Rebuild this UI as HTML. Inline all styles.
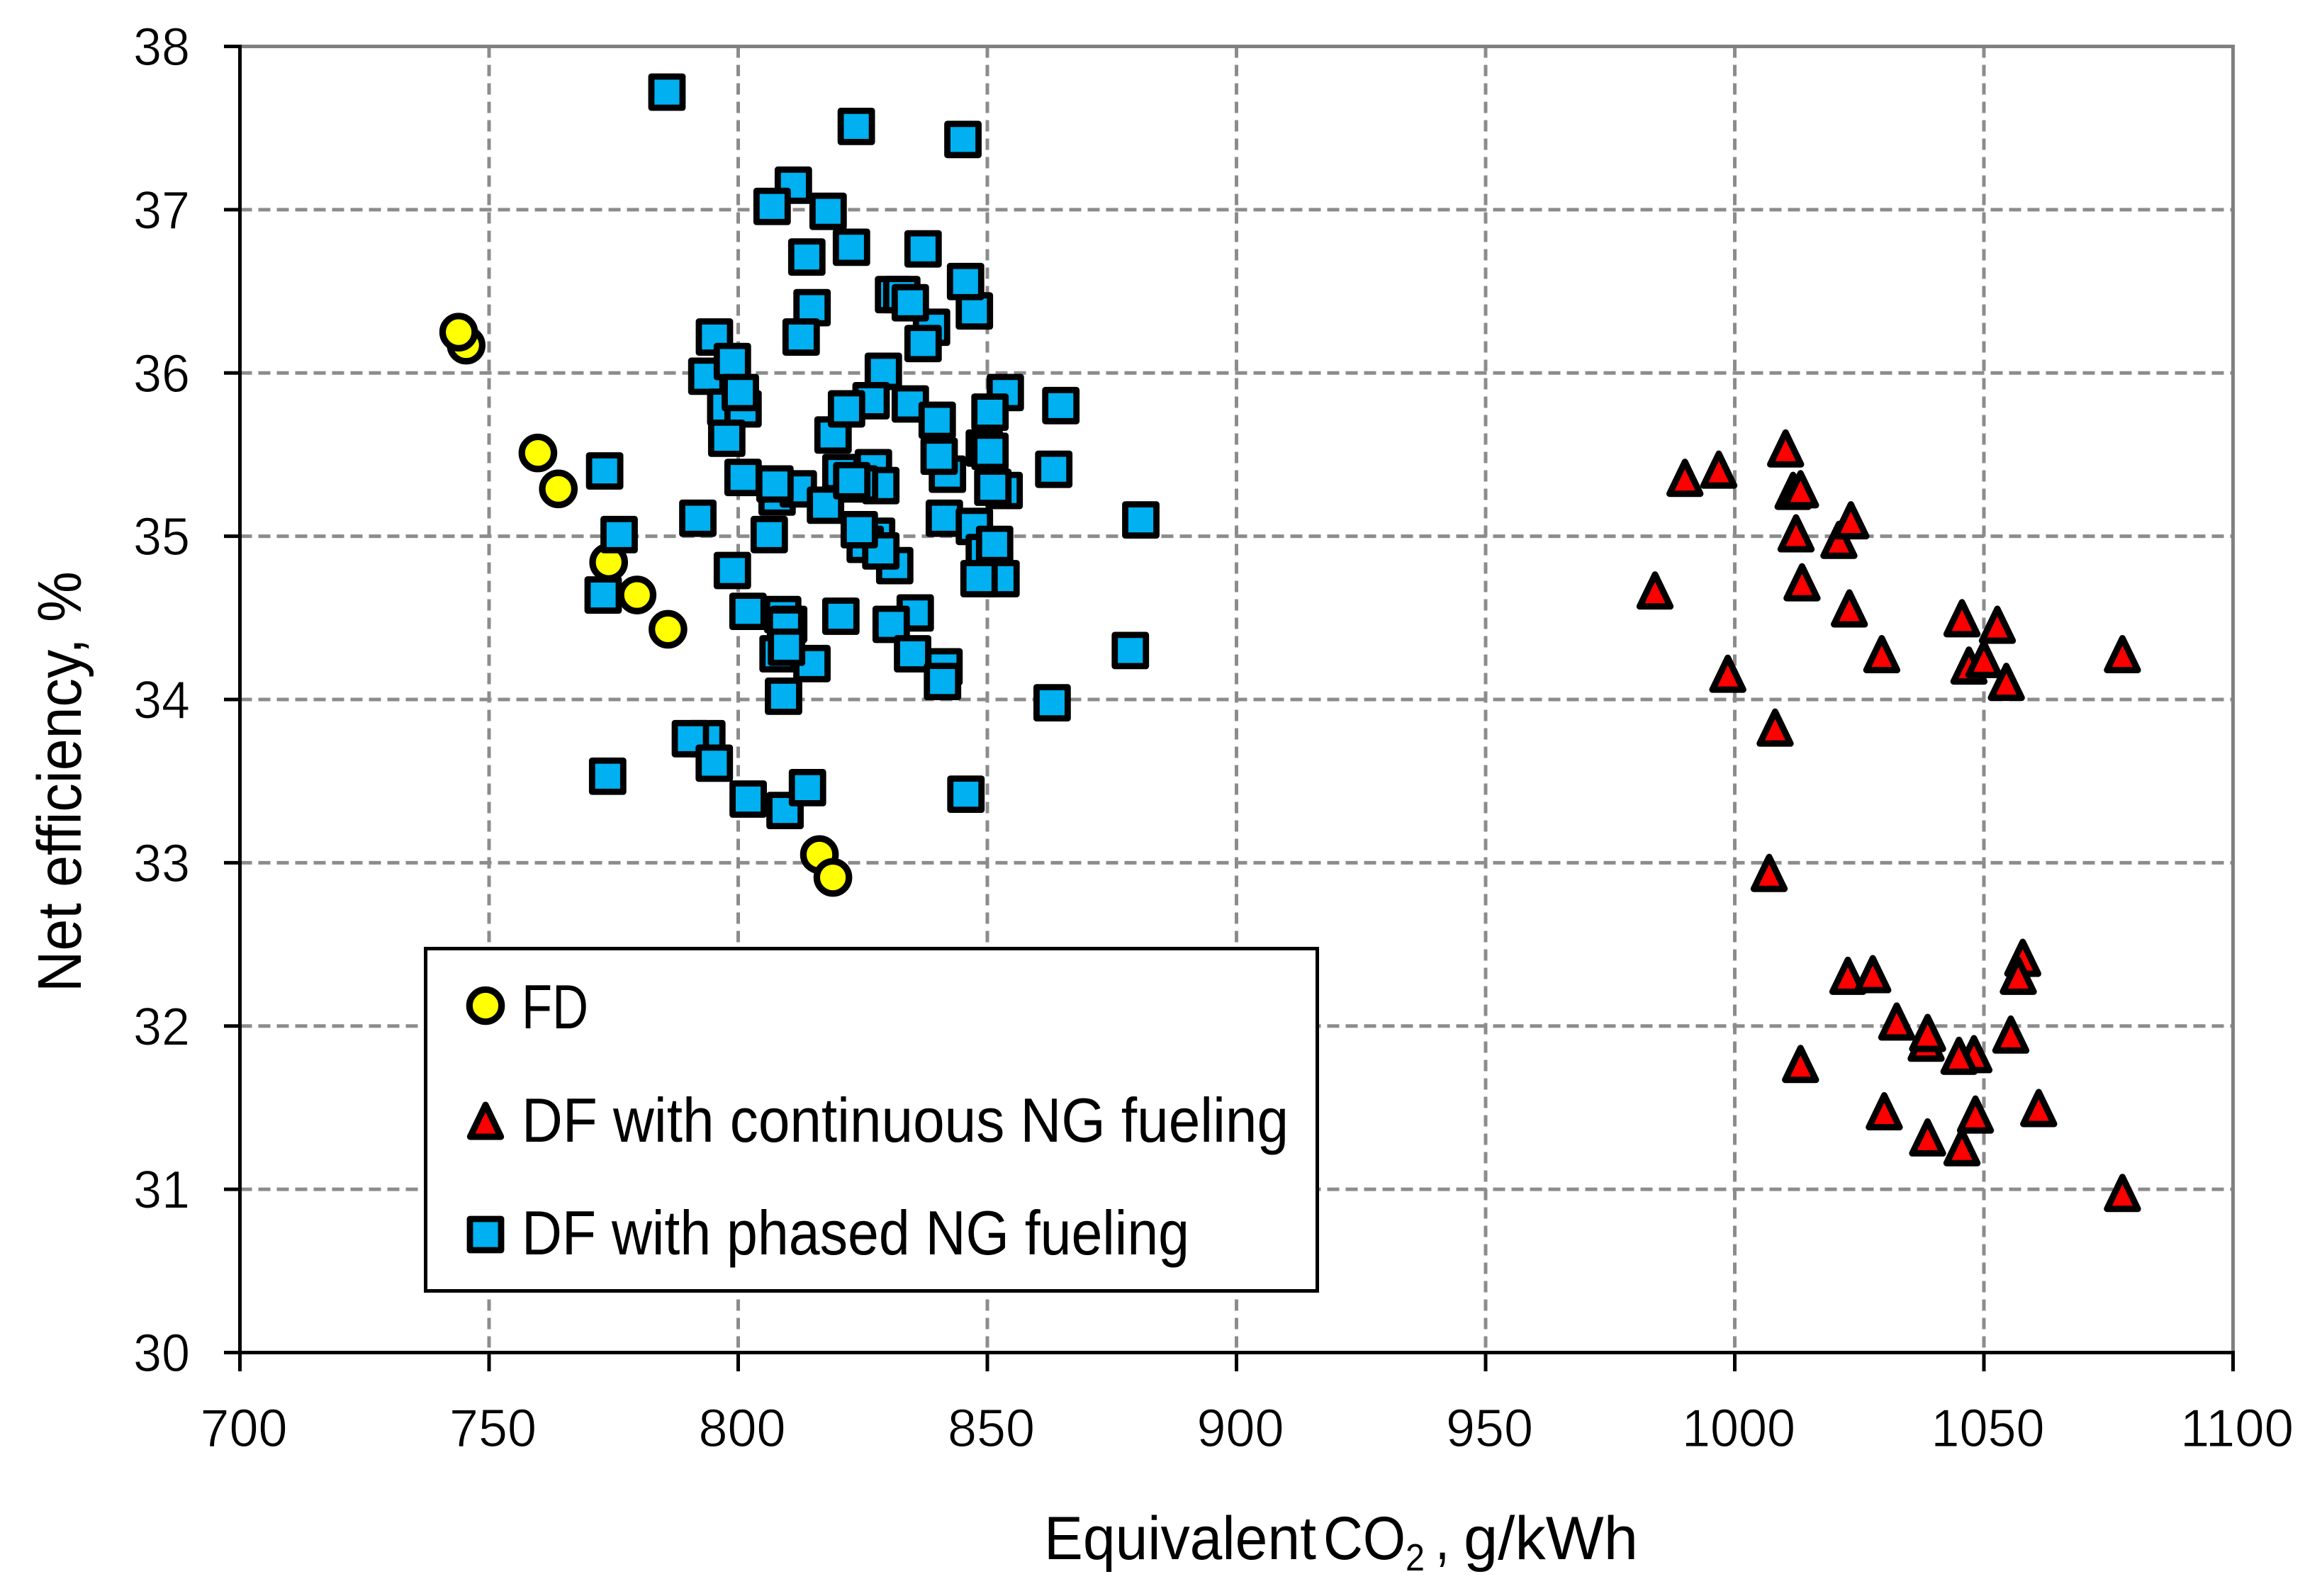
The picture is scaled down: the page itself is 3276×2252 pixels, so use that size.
<!DOCTYPE html>
<html lang="en">
<head>
<meta charset="utf-8">
<title>Net efficiency vs equivalent CO2</title>
<style>
html,body{margin:0;padding:0;background:#fff;}
svg{display:block;}
text{font-family:"Liberation Sans",sans-serif;fill:#000;}
</style>
</head>
<body>
<svg id="chart" xmlns="http://www.w3.org/2000/svg" width="3276" height="2252" viewBox="0 0 3276 2252">
  <rect x="0" y="0" width="3276" height="2252" fill="#fff"/>
  <g id="grid"></g>
  <g id="frame"></g>
  <g id="ticks"></g>
  <g id="series-fd"></g>
  <g id="series-cont"></g>
  <g id="series-phased"></g>
  <text transform="translate(114,1400) rotate(-90)" x="0" y="0" font-size="87" textLength="594" lengthAdjust="spacingAndGlyphs">Net efficiency, %</text>
  <text x="1473" y="2200" font-size="86" textLength="384" lengthAdjust="spacingAndGlyphs">Equivalent</text>
  <text x="1867" y="2200" font-size="86" textLength="116" lengthAdjust="spacingAndGlyphs">CO</text>
  <text x="1983" y="2216" font-size="54" textLength="27" lengthAdjust="spacingAndGlyphs">2</text>
  <text x="2025" y="2200" font-size="86" textLength="20" lengthAdjust="spacingAndGlyphs">,</text>
  <text x="2065" y="2200" font-size="86" textLength="246" lengthAdjust="spacingAndGlyphs">g/kWh</text>
  <g>
    <rect x="600.5" y="1338.5" width="1258" height="483" fill="#fff" stroke="#000" stroke-width="5"/>
    <circle cx="685" cy="1419" r="22.7" fill="#ffff00" stroke="#000" stroke-width="9.2"/>
    <text x="736" y="1451" font-size="88" textLength="94" lengthAdjust="spacingAndGlyphs">FD</text>
    <polygon points="685,1559 706.7,1604 663.3,1604" fill="#ff0000" stroke="#000" stroke-width="9" stroke-linejoin="round"/>
    <text x="736" y="1611" font-size="88" textLength="1082" lengthAdjust="spacingAndGlyphs">DF with continuous NG fueling</text>
    <rect x="663" y="1720" width="44" height="44" fill="#00b0f0" stroke="#000" stroke-width="8.8" stroke-linejoin="round"/>
    <text x="736" y="1770" font-size="88" textLength="942" lengthAdjust="spacingAndGlyphs">DF with phased NG fueling</text>
  </g>
</svg>
<script>
const xTicks = [700,750,800,850,900,950,1000,1050,1100];
const yTicks = [30,31,32,33,34,35,36,37,38];
const fdX = [745.4,743.9,759.8,763.9,774,779.7,785.9,816.3,819];
const fdY = [36.17,36.25,35.51,35.29,34.84,34.64,34.43,33.05,32.91];
const contX = [984,990,996.8,1010.2,1011.7,1013.2,1012.3,1020.9,1023.3,1013.5,1023,1045.6,1052.7,1029.5,1047,1050,1054.5,1077.8,998.6,1008.1,1006.9,1022.7,1027.7,1032.5,1038.4,1038.7,1055.4,1057.8,1056.9,1013.2,1048,1045,1030,1038.7,1048.3,1061,1045.6,1077.8];
const contY = [34.67,35.36,35.41,35.54,35.28,35.29,35.02,34.98,35.10,34.72,34.56,34.50,34.46,34.28,34.21,34.25,34.11,34.28,34.16,33.83,32.94,32.31,32.32,32.03,31.9,31.96,31.95,32.42,32.31,31.77,31.83,31.82,31.48,31.32,31.46,31.50,31.26,30.98];
const phasedX = [785.7,823.7,845.1,791.9,776.1,772.9,773.2,880.8,878.7,793.7,795.23,798.83,811.07,806.8,818.04,822.73,813.77,837.1,847.4,845.63,814.82,812.63,831.18,832.83,838.8,834.54,837.1,829.13,797.5,800.97,800.43,797.7,807.8,812.06,807.37,800.97,806.23,798.83,817.52,819.03,826.67,821.74,834.54,839.94,841.99,840.33,853.6,850.53,853.37,849.39,850.53,851.1,864.75,863.33,827.14,828.62,820.6,824.35,822.79,831.41,827.77,825.49,828.62,824.3,841.37,847.4,849.39,851.46,852.74,848.33,820.6,835.53,830.7,801.96,808.93,810.13,809.5,808,814.8,809.7,809.1,835,841.3,841,863,793.7,790.4,795.2,773.8,809.4,802,813.9,845.7];
const phasedY = [37.72,37.51,37.43,35.11,35.01,34.64,35.40,35.10,34.30,35.98,36.22,36.07,37.15,37.02,36.99,36.77,36.71,36.76,36.38,36.56,36.40,36.22,36.48,36.48,36.28,36.43,36.18,36.01,35.79,35.78,35.88,35.60,35.24,35.29,35.32,35.36,35.01,34.79,35.19,35.62,35.83,35.78,35.81,35.71,35.38,35.49,35.88,35.76,35.28,35.54,35.52,35.30,35.80,35.41,35.42,35.31,35.39,35.32,35.34,34.82,35.00,34.95,34.91,35.04,35.11,35.06,34.90,34.95,34.74,34.74,34.51,34.53,34.46,34.54,34.52,34.46,34.45,34.28,34.22,34.32,34.02,34.28,34.20,34.11,33.98,33.76,33.76,33.61,33.53,33.32,33.39,33.46,33.42];

const NS = 'http://www.w3.org/2000/svg';
const plotLeft = 338.5, plotRight = 3150.5, plotTop = 65.5, plotBottom = 1908.5;
function xScale(v){ return plotLeft + (v - 700) / 400 * (plotRight - plotLeft); }
function yScale(v){ return plotBottom - (v - 30) / 8 * (plotBottom - plotTop); }
function make(tag, parentId){
  const el = document.createElementNS(NS, tag);
  document.getElementById(parentId).appendChild(el);
  return el;
}
function line(el, x1, y1, x2, y2, color, width){
  el.setAttribute('x1', x1); el.setAttribute('y1', y1);
  el.setAttribute('x2', x2); el.setAttribute('y2', y2);
  el.setAttribute('stroke', color); el.setAttribute('stroke-width', width);
}
function thin(el){
  el.setAttribute('stroke', '#fff');
  el.setAttribute('stroke-width', 1);
}

xTicks.forEach(function(t){
  const x = xScale(t);
  if (t !== 700 && t !== 1100) {
    const g = make('line', 'grid');
    
    
    line(g, x, plotTop, x, plotBottom, '#8c8c8c', 5);
    g.setAttribute('stroke-dasharray', '16 10');
  }
  const m = make('line', 'ticks');
  
  
  line(m, x, plotBottom, x, 1935, '#000', 5);
  const lab = make('text', 'ticks');
  
  
  lab.setAttribute('x', x + 5.5);
  lab.setAttribute('y', 2041);
  lab.setAttribute('font-size', 75);
  lab.setAttribute('text-anchor', 'middle');
  lab.setAttribute('textLength', String(t).length === 4 ? 160 : 123);
  lab.setAttribute('lengthAdjust', 'spacingAndGlyphs');
  thin(lab);
  lab.textContent = t;
});

yTicks.forEach(function(t){
  const y = yScale(t);
  if (t !== 30 && t !== 38) {
    const g = make('line', 'grid');
    
    
    line(g, plotLeft, y, plotRight, y, '#8c8c8c', 5);
    g.setAttribute('stroke-dasharray', '17 9');
  }
  const m = make('line', 'ticks');
  
  
  line(m, 316, y, plotLeft, y, '#000', 5);
  const lab = make('text', 'ticks');
  
  
  lab.setAttribute('x', 188);
  lab.setAttribute('y', y + 26.5);
  lab.setAttribute('font-size', 75);
  lab.setAttribute('textLength', 80);
  lab.setAttribute('lengthAdjust', 'spacingAndGlyphs');
  thin(lab);
  lab.textContent = t;
});

const top_ = make('line', 'frame');


line(top_, plotLeft, plotTop, plotRight + 2.5, plotTop, '#808080', 5);
const right_ = make('line', 'frame');


line(right_, plotRight, plotTop, plotRight, plotBottom, '#808080', 5);
const left_ = make('line', 'ticks');


line(left_, plotLeft, plotTop - 2.5, plotLeft, plotBottom + 2.5, '#000', 5);
const bottom_ = make('line', 'ticks');


line(bottom_, plotLeft, plotBottom, plotRight + 2.5, plotBottom, '#000', 5);

fdX.forEach(function(v, i){
  const c = make('circle', 'series-fd');
  
  
  c.setAttribute('cx', xScale(v));
  c.setAttribute('cy', yScale(fdY[i]));
  c.setAttribute('r', 22.7);
  c.setAttribute('fill', '#ffff00');
  c.setAttribute('stroke', '#000');
  c.setAttribute('stroke-width', 9.2);
});

contX.forEach(function(v, i){
  const cx = xScale(v), cy = yScale(contY[i]);
  const p = make('polygon', 'series-cont');
  
  
  p.setAttribute('points', cx + ',' + (cy - 22) + ' ' + (cx + 21.7) + ',' + (cy + 23) + ' ' + (cx - 21.7) + ',' + (cy + 23));
  p.setAttribute('fill', '#ff0000');
  p.setAttribute('stroke', '#000');
  p.setAttribute('stroke-width', 9);
  p.setAttribute('stroke-linejoin', 'round');
});

phasedX.forEach(function(v, i){
  const r = make('rect', 'series-phased');
  
  
  r.setAttribute('x', xScale(v) - 22);
  r.setAttribute('y', yScale(phasedY[i]) - 22);
  r.setAttribute('width', 44);
  r.setAttribute('height', 44);
  r.setAttribute('fill', '#00b0f0');
  r.setAttribute('stroke', '#000');
  r.setAttribute('stroke-width', 8.8);
  r.setAttribute('stroke-linejoin', 'round');
});
</script>
</body>
</html>
